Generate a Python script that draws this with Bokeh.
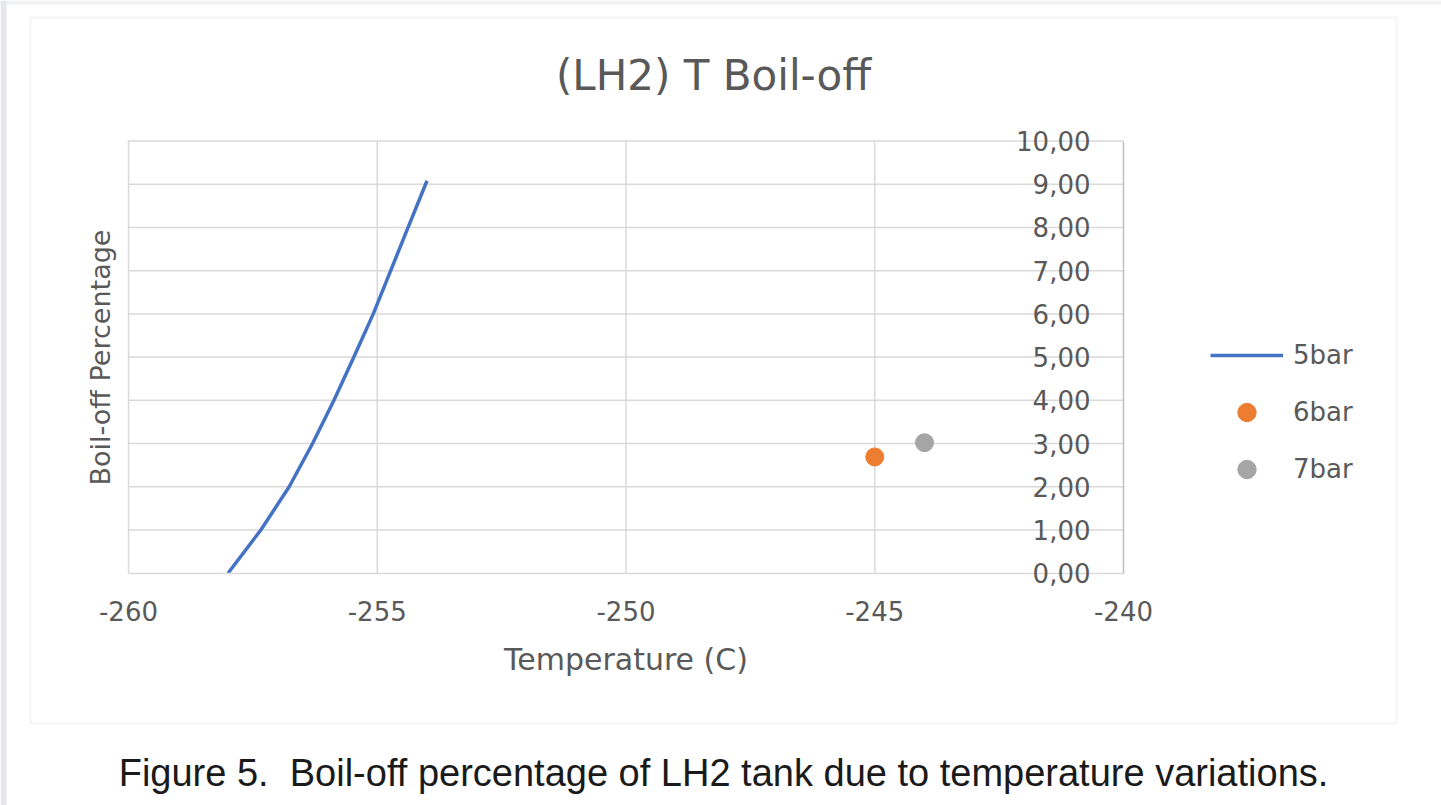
from bokeh.plotting import figure
from bokeh.models import (LinearAxis, FixedTicker, Label,
                          Legend, LegendItem, BoxAnnotation, Range1d)
from bokeh.embed import file_html
from bokeh.resources import INLINE

# ---- data ----
temp_5bar = [-258.0, -257.34, -256.77, -256.30, -255.87, -255.47, -255.08, -254.73, -254.38, -254.0]
boil_5bar = [0.0, 1.0, 2.0, 3.0, 4.0, 5.0, 6.0, 7.0, 8.0, 9.08]
temp_6bar = [-245.0]
boil_6bar = [2.69]
temp_7bar = [-244.0]
boil_7bar = [3.02]

x_ticks = [-260, -255, -250, -245, -240]
x_tick_labels = ["-260", "-255", "-250", "-245", "-240"]
y_ticks = [0, 1, 2, 3, 4, 5, 6, 7, 8, 9, 10]
y_tick_labels = ["0,00", "1,00", "2,00", "3,00", "4,00", "5,00", "6,00", "7,00", "8,00", "9,00", "10,00"]

title_text = "(LH2) T Boil-off"
x_title = "Temperature (C)"
y_title = "Boil-off Percentage"
caption_text = "Figure 5.\u00a0\u00a0Boil-off percentage of LH2 tank due to temperature variations."

TXT = "#595959"
GRID = "#d9d9d9"
FONT = "DejaVu Sans"

W, H = 1441, 805
# plot area: x -260..-240 -> px 128..1123 ; y 0..10 -> px 572.7..140.5 (from top)
xs = (1123 - 128) / 20.0
ys = (572.7 - 140.5) / 10.0
x0 = -260 - 128 / xs
x1 = -240 + (W - 1123) / xs
y0 = -(H - 572.7) / ys
y1 = 10 + 140.5 / ys

p = figure(width=W, height=H, output_backend="svg", toolbar_location=None,
           x_range=Range1d(x0, x1), y_range=Range1d(y0, y1),
           x_axis_location=None, y_axis_location=None,
           min_border=0, min_border_left=0, min_border_right=0, min_border_top=0, min_border_bottom=0,
           background_fill_color="white", border_fill_color="white", outline_line_color=None)
p.title.visible = False
p.grid.visible = False

# page decoration: grey strips at top/left and the chart border box
p.add_layout(BoxAnnotation(bottom=H - 4, bottom_units="screen", fill_color="#f1f2f4",
                           fill_alpha=1, line_color=None))
p.add_layout(BoxAnnotation(right=6, right_units="screen", fill_color="#e6e8eb",
                           fill_alpha=1, line_color=None))
p.add_layout(BoxAnnotation(left=30, right=1396, bottom=H - 723, top=H - 17,
                           left_units="screen", right_units="screen",
                           bottom_units="screen", top_units="screen",
                           fill_alpha=0, line_color=GRID, line_width=2))

# gridlines (inside the plot area only)
gx = x_ticks[:-1]
p.segment(x0=gx, y0=[y_ticks[0]] * len(gx), x1=gx, y1=[y_ticks[-1]] * len(gx),
          line_color=GRID, line_width=1.5)
gy = y_ticks[1:]
p.segment(x0=[x_ticks[0]] * len(gy), y0=gy, x1=[x_ticks[-1]] * len(gy), y1=gy,
          line_color=GRID, line_width=1.5)

# x axis at y = 0
xa = LinearAxis(fixed_location=0, bounds=(x_ticks[0], x_ticks[-1]),
                ticker=FixedTicker(ticks=x_ticks),
                major_label_overrides=dict(zip(x_ticks, x_tick_labels)),
                axis_line_color=GRID, axis_line_width=1.5,
                major_tick_line_color=None, minor_tick_line_color=None,
                major_label_text_font=FONT, major_label_text_font_size="26px",
                major_label_text_color=TXT, major_label_standoff=22,
                axis_label=x_title, axis_label_text_font=FONT,
                axis_label_text_font_size="30px", axis_label_text_font_style="normal",
                axis_label_text_color=TXT, axis_label_standoff=17)
p.add_layout(xa, "below")

# value axis at x = -240 (labels to its left, as Excel draws it)
ya = LinearAxis(fixed_location=x_ticks[-1], bounds=(y_ticks[0], y_ticks[-1]),
                ticker=FixedTicker(ticks=y_ticks),
                major_label_overrides=dict(zip(y_ticks, y_tick_labels)),
                axis_line_color="#bfbfbf", axis_line_width=1.5,
                major_tick_line_color=None, minor_tick_line_color=None,
                major_label_text_font=FONT, major_label_text_font_size="26px",
                major_label_text_color=TXT, major_label_standoff=27)
p.add_layout(ya, "left")

# y axis title at the left edge of the plot area
yt = LinearAxis(fixed_location=x_ticks[0], bounds=(y_ticks[0], y_ticks[-1]),
                ticker=FixedTicker(ticks=[]), axis_line_color=None,
                major_tick_line_color=None, minor_tick_line_color=None,
                axis_label=y_title, axis_label_text_font=FONT,
                axis_label_text_font_size="27px", axis_label_text_font_style="normal",
                axis_label_text_color=TXT, axis_label_standoff=13)
p.add_layout(yt, "left")

# series
r5 = p.line(temp_5bar, boil_5bar, line_color="#4472C4", line_width=3.5, line_join="round")
r6 = p.scatter(temp_6bar, boil_6bar, size=18, fill_color="#ED7D31", line_color="#ED7D31")
r7 = p.scatter(temp_7bar, boil_7bar, size=18, fill_color="#A5A5A5", line_color="#A5A5A5")

legend = Legend(items=[LegendItem(label="5bar", renderers=[r5]),
                       LegendItem(label="6bar", renderers=[r6]),
                       LegendItem(label="7bar", renderers=[r7])],
                location=(1210, H - 492), border_line_color=None, background_fill_alpha=0,
                padding=0, margin=0, glyph_width=73, glyph_height=46, label_height=46,
                spacing=11, label_standoff=10, label_text_font=FONT,
                label_text_font_size="26px", label_text_color=TXT)
p.add_layout(legend, "center")

# chart title
p.add_layout(Label(x=713, y=H - 75, x_units="screen", y_units="screen", text=title_text,
                   text_align="center", text_baseline="middle", text_font=FONT,
                   text_font_size="42px", text_color=TXT))

# caption
p.add_layout(Label(x=723, y=H - 772, x_units="screen", y_units="screen", text=caption_text,
                   text_align="center", text_baseline="middle", text_font="Liberation Sans",
                   text_font_size="38px", text_color="#1a1a1a"))

open("out.html", "w").write(file_html(p, INLINE))
